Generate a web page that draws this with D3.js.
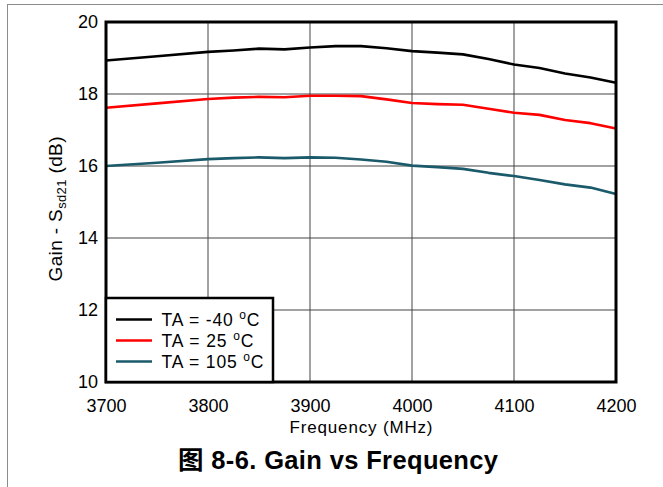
<!DOCTYPE html>
<html>
<head>
<meta charset="utf-8">
<script src="https://cdn.jsdelivr.net/npm/d3@7"></script>
<style>
  html, body { margin: 0; padding: 0; background: #fff; }
  svg { display: block; font-family: "Liberation Sans", Arial, "Noto Sans CJK SC", sans-serif; }
</style>
</head>
<body>
<svg id="chart" width="663" height="487"></svg>
<script>
// Frequency points (MHz)
const freqs = [3700, 3750, 3800, 3825, 3850, 3875, 3900, 3925, 3950, 3975, 4000, 4025, 4050, 4075, 4100, 4125, 4150, 4175, 4200];
// Gain Ssd21 (dB) per temperature
const gainM40 = [18.93, 19.05, 19.17, 19.21, 19.26, 19.24, 19.29, 19.33, 19.33, 19.27, 19.19, 19.15, 19.10, 18.97, 18.82, 18.72, 18.57, 18.46, 18.31];
const gain25  = [17.62, 17.74, 17.86, 17.90, 17.92, 17.91, 17.95, 17.95, 17.94, 17.85, 17.75, 17.72, 17.70, 17.59, 17.48, 17.42, 17.28, 17.19, 17.04];
const gain105 = [16.00, 16.09, 16.19, 16.22, 16.24, 16.22, 16.24, 16.23, 16.18, 16.12, 16.01, 15.97, 15.92, 15.81, 15.72, 15.61, 15.49, 15.40, 15.22];
const seriesNames = ["TA = -40 ", "TA = 25 ", "TA = 105 "];
const seriesColors = ["#000000", "#ff0000", "#1a5a6a"];
const xTicks = [3700, 3800, 3900, 4000, 4100, 4200];
const yTicks = [10, 12, 14, 16, 18, 20];

const series = [gainM40, gain25, gain105].map((vals, i) => ({
  name: seriesNames[i], color: seriesColors[i],
  points: freqs.map((f, j) => ({ f, g: vals[j] }))
}));

const svg = d3.select("#chart");
const L = 106, R = 616, T = 22, B = 382;

// stretch a text element horizontally to a given width (spacing only)
function fitWidth(sel, w) {
  sel.attr("textLength", w).attr("lengthAdjust", "spacing");
  return sel;
}

// outer figure frame
svg.append("rect").attr("x", 7.5).attr("y", 4.5).attr("width", 700).attr("height", 600)
  .attr("fill", "none").attr("stroke", "#8c8c8c").attr("stroke-width", 1);

const x = d3.scaleLinear().domain([3700, 4200]).range([L, R]);
const y = d3.scaleLinear().domain([10, 20]).range([B, T]);

// grid
const grid = svg.append("g");
grid.selectAll("line.v").data(xTicks.slice(1, -1)).join("line")
  .attr("x1", d => x(d)).attr("x2", d => x(d)).attr("y1", T).attr("y2", B)
  .attr("stroke", "#444").attr("stroke-width", 1);
grid.selectAll("line.h").data(yTicks.slice(1, -1)).join("line")
  .attr("x1", L).attr("x2", R).attr("y1", d => y(d)).attr("y2", d => y(d))
  .attr("stroke", "#444").attr("stroke-width", 1);

// axes (labels only)
const xAxis = svg.append("g").attr("transform", `translate(0,${B})`)
  .call(d3.axisBottom(x).tickValues(xTicks).tickSize(0).tickPadding(17).tickFormat(d3.format("d")));
const yAxis = svg.append("g").attr("transform", `translate(${L},0)`)
  .call(d3.axisLeft(y).tickValues(yTicks).tickSize(0).tickPadding(8).tickFormat(d3.format("d")));
[xAxis, yAxis].forEach(a => {
  a.select(".domain").remove();
  a.selectAll("text").attr("font-size", 18).attr("fill", "#000")
    .attr("font-family", "'Liberation Sans', Arial, sans-serif");
});

// data lines
const line = d3.line().x(d => x(d.f)).y(d => y(d.g));
svg.append("g").selectAll("path").data(series).join("path")
  .attr("d", d => line(d.points))
  .attr("fill", "none").attr("stroke", d => d.color).attr("stroke-width", 2.6)
  .attr("stroke-linejoin", "round");

// plot frame
svg.append("rect").attr("x", L).attr("y", T).attr("width", R - L).attr("height", B - T)
  .attr("fill", "none").attr("stroke", "#000").attr("stroke-width", 3);

// legend
const legendWidths = [98, 92, 102];
const lg = svg.append("g");
lg.append("rect").attr("x", L).attr("y", 298).attr("width", 167).attr("height", B - 298)
  .attr("fill", "#fff").attr("stroke", "#000").attr("stroke-width", 2.5);
series.forEach((s, i) => {
  const yy = 319.5 + i * 21;
  lg.append("line").attr("x1", 116).attr("x2", 152).attr("y1", yy).attr("y2", yy)
    .attr("stroke", s.color).attr("stroke-width", 2.6);
  const t = lg.append("text").attr("x", 161.5).attr("y", yy + 6.7).attr("font-size", 17.5).attr("fill", "#000");
  t.append("tspan").text(s.name);
  t.append("tspan").attr("dy", -7).attr("font-size", 12).text("o");
  t.append("tspan").attr("dy", 7).text("C");
  fitWidth(t, legendWidths[i]);
});

// axis titles
fitWidth(svg.append("text").attr("x", (L + R) / 2).attr("y", 433).attr("text-anchor", "middle")
  .attr("font-size", 17).text("Frequency (MHz)"), 143);
const yt = svg.append("text").attr("transform", "translate(62,209) rotate(-90)")
  .attr("text-anchor", "middle").attr("font-size", 19);
yt.append("tspan").text("Gain - S");
yt.append("tspan").attr("dy", 4).attr("font-size", 13).text("sd21");
yt.append("tspan").attr("dy", -4).text(" (dB)");
fitWidth(yt, 145);

// caption
fitWidth(svg.append("text").attr("x", 338).attr("y", 469).attr("text-anchor", "middle")
  .attr("font-size", 25.5).attr("font-weight", "bold")
  .attr("font-family", "'Liberation Sans', Arial, 'Noto Sans CJK SC', sans-serif")
  .text("图 8-6. Gain vs Frequency"), 320);
</script>
</body>
</html>
